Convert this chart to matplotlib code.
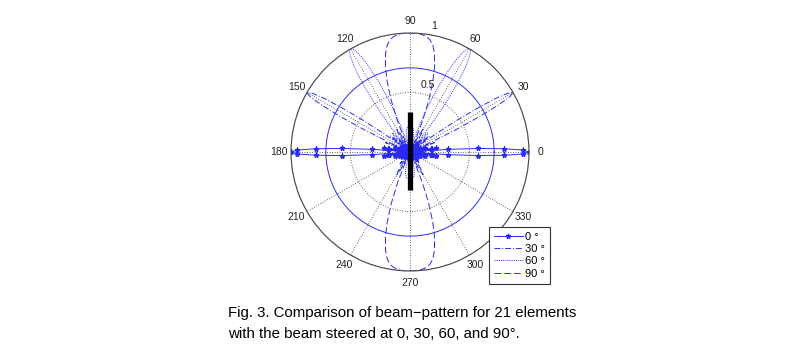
import numpy as np
import matplotlib
matplotlib.use("Agg")
import matplotlib.pyplot as plt

plt.rcParams['font.family'] = ['Liberation Sans', 'DejaVu Sans']

# ---- Beam-pattern samples: angle in degrees, normalised magnitude ----
# Steered to 0 deg: one quadrant (0..90), pattern is symmetric about both axes
s0_deg = [0, 1, 2, 3, 4, 5, 6, 7, 8, 9, 10, 11, 12, 13, 14, 15, 16, 17, 18, 19,
          20, 21, 23, 25, 27, 29, 31, 34, 37, 40, 44, 48, 52, 56, 61, 66, 72, 78, 84, 90]
s0_mag = [1.00, 0.95, 0.79, 0.57, 0.32, 0.09, 0.09, 0.19, 0.22, 0.18, 0.09, 0.01,
          0.08, 0.12, 0.13, 0.09, 0.04, 0.02, 0.07, 0.09, 0.09, 0.06, 0.02, 0.07,
          0.05, 0.02, 0.06, 0.05, 0.02, 0.06, 0.04, 0.05, 0.02, 0.05, 0.04, 0.05,
          0.02, 0.05, 0.04, 0.05]

# Steered to 30 deg: right half-plane (-90..90), mirrored about the array axis
s30_deg = [-90, -80, -70, -60, -50, -40, -30, -20, -10, -5, 0, 5, 8, 10, 12, 14, 15,
           16, 17, 18, 19, 20, 21, 22, 23, 24, 25, 26, 27, 28, 29, 30, 31, 32, 33,
           34, 35, 36, 37, 38, 39, 40, 41, 42, 43, 44, 45, 47, 49, 51, 53, 55, 60,
           65, 70, 80, 90]
s30_mag = [0.05, 0.03, 0.05, 0.04, 0.02, 0.05, 0.05, 0.02, 0.01, 0.04, 0.05, 0.07,
           0.03, 0.09, 0.02, 0.10, 0.13, 0.12, 0.08, 0.00, 0.08, 0.17, 0.22, 0.20,
           0.13, 0.02, 0.22, 0.44, 0.66, 0.84, 0.96, 1.00, 0.96, 0.85, 0.68, 0.48,
           0.27, 0.08, 0.06, 0.17, 0.21, 0.21, 0.18, 0.12, 0.05, 0.02, 0.08, 0.13,
           0.10, 0.03, 0.04, 0.09, 0.04, 0.06, 0.07, 0.02, 0.05]

# Steered to 60 deg: right half-plane (-90..90)
s60_deg = [-90, -87, -85, -83, -80, -78, -76, -75, -73, -71, -65, -60, -50, -45,
           -35, -20, -10, 0, 10, 20, 25, 30, 35, 38, 40, 42, 43, 44, 45, 46, 47,
           48, 49, 50, 51, 52, 53, 54, 55, 56, 57, 58, 59, 60, 61, 62, 63, 64, 65,
           66, 67, 68, 69, 70, 71, 72, 73, 74, 75, 76, 78, 80, 82, 84, 86, 88, 90]
s60_mag = [0.22, 0.22, 0.22, 0.22, 0.20, 0.18, 0.15, 0.12, 0.07, 0.01, 0.06, 0.06,
           0.03, 0.08, 0.02, 0.04, 0.03, 0.01, 0.04, 0.06, 0.06, 0.04, 0.03, 0.11,
           0.12, 0.03, 0.04, 0.11, 0.17, 0.21, 0.22, 0.20, 0.14, 0.05, 0.07, 0.21,
           0.36, 0.51, 0.65, 0.77, 0.87, 0.94, 0.99, 1.00, 0.99, 0.95, 0.89, 0.82,
           0.73, 0.64, 0.54, 0.45, 0.36, 0.27, 0.19, 0.12, 0.06, 0.00, 0.05, 0.09,
           0.14, 0.18, 0.20, 0.21, 0.22, 0.22, 0.22]

# Steered to 90 deg (end-fire): one quadrant, lobes at 90 and 270
s90_deg = [0, 10, 15, 20, 25, 30, 35, 40, 42, 44, 46, 48, 50, 52, 54, 56, 58, 60,
           62, 64, 66, 68, 70, 72, 74, 76, 78, 80, 82, 84, 86, 88, 90]
s90_mag = [0.05, 0.04, 0.03, 0.02, 0.01, 0.05, 0.08, 0.06, 0.10, 0.06, 0.02, 0.10,
           0.13, 0.09, 0.00, 0.11, 0.19, 0.22, 0.17, 0.06, 0.10, 0.28, 0.46, 0.62,
           0.75, 0.85, 0.92, 0.96, 0.98, 0.99, 1.00, 1.00, 1.00]

half_power = 0.707          # -3 dB reference ring
array_top = 0.34            # drawn extent of the 21-element array
array_bottom = 0.32

angle_ticks = [0, 30, 60, 90, 120, 150, 180, 210, 240, 270, 300, 330]
radius_ticks = [0.5, 1.0]
radius_labels = ['0.5', '1']
legend_labels = ['0 °', '30 °', '60 °', '90 °']
caption = ['Fig. 3. Comparison of beam\u2212pattern for 21 elements',
           'with the beam steered at 0, 30, 60, and 90°.']


def quadrant_to_half(deg, mag):
    deg = np.asarray(deg, float)
    mag = np.asarray(mag, float)
    return np.concatenate([-deg[::-1], deg]), np.concatenate([mag[::-1], mag])


def half_to_full(deg, mag):
    deg = np.asarray(deg, float)
    mag = np.asarray(mag, float)
    theta = np.concatenate([deg, 180.0 - deg[::-1]])
    return np.radians(theta), np.concatenate([mag, mag[::-1]])


fig = plt.figure(figsize=(8.0, 3.47), dpi=100)
ax = fig.add_axes([0.36375, 0.219, 0.2975, 0.6859], projection='polar')
ax.set_ylim(0, 1)
ax.set_xticks(np.radians(angle_ticks))
ax.set_xticklabels([])
ax.set_yticks(radius_ticks)
ax.set_yticklabels([])
ax.grid(True, color='#333333', linestyle=(0, (1, 2)), linewidth=0.6)
ax.spines['polar'].set_color('#444444')
ax.spines['polar'].set_linewidth(0.8)

blue = '#2a2aff'
lw = 0.7

t0, r0 = half_to_full(*quadrant_to_half(s0_deg, s0_mag))
t30, r30 = half_to_full(s30_deg, s30_mag)
t60, r60 = half_to_full(s60_deg, s60_mag)
t90, r90 = half_to_full(*quadrant_to_half(s90_deg, s90_mag))

ring = np.linspace(0, 2 * np.pi, 361)
ax.plot(ring, np.full_like(ring, half_power), color=blue, lw=lw)

h0, = ax.plot(t0, r0, color=blue, lw=lw, marker='*', markersize=3.5)
h30, = ax.plot(t30, r30, color=blue, lw=lw, linestyle=(0, (6, 2, 1, 2)))
h60, = ax.plot(t60, r60, color=blue, lw=lw, linestyle=(0, (1, 1.2)))
h90, = ax.plot(t90, r90, color=blue, lw=lw, linestyle=(0, (7, 3)))

# the array itself
ax.plot([np.pi / 2, np.pi / 2], [0, array_top], color='k', lw=3.8, solid_capstyle='butt')
ax.plot([3 * np.pi / 2, 3 * np.pi / 2], [0, array_bottom], color='k', lw=3.8,
        solid_capstyle='butt')

for a in angle_ticks:
    ax.text(np.radians(a), 1.1, str(a), ha='center', va='center', fontsize=7.5,
            color='#222222')
for r, lab in zip(radius_ticks, radius_labels):
    ax.text(np.radians(80), r + 0.03, lab, ha='left', va='bottom', fontsize=7.5,
            color='#222222')

leg = ax.legend([h0, h30, h60, h90], legend_labels, loc='upper left',
                bbox_to_anchor=(0.611, 0.346), bbox_transform=fig.transFigure,
                frameon=True, fancybox=False, edgecolor='#333333', framealpha=1,
                fontsize=8, handlelength=2.6, labelspacing=0.2, borderpad=0.45,
                handletextpad=0.25, borderaxespad=0)
leg.get_frame().set_linewidth(0.8)

fig.text(228 / 800, 1 - 313 / 347, caption[0], fontsize=10.8, ha='left', va='center')
fig.text(228 / 800, 1 - 334 / 347, caption[1], fontsize=10.8, ha='left', va='center')

fig.savefig('out.png', dpi=100, facecolor='white')
